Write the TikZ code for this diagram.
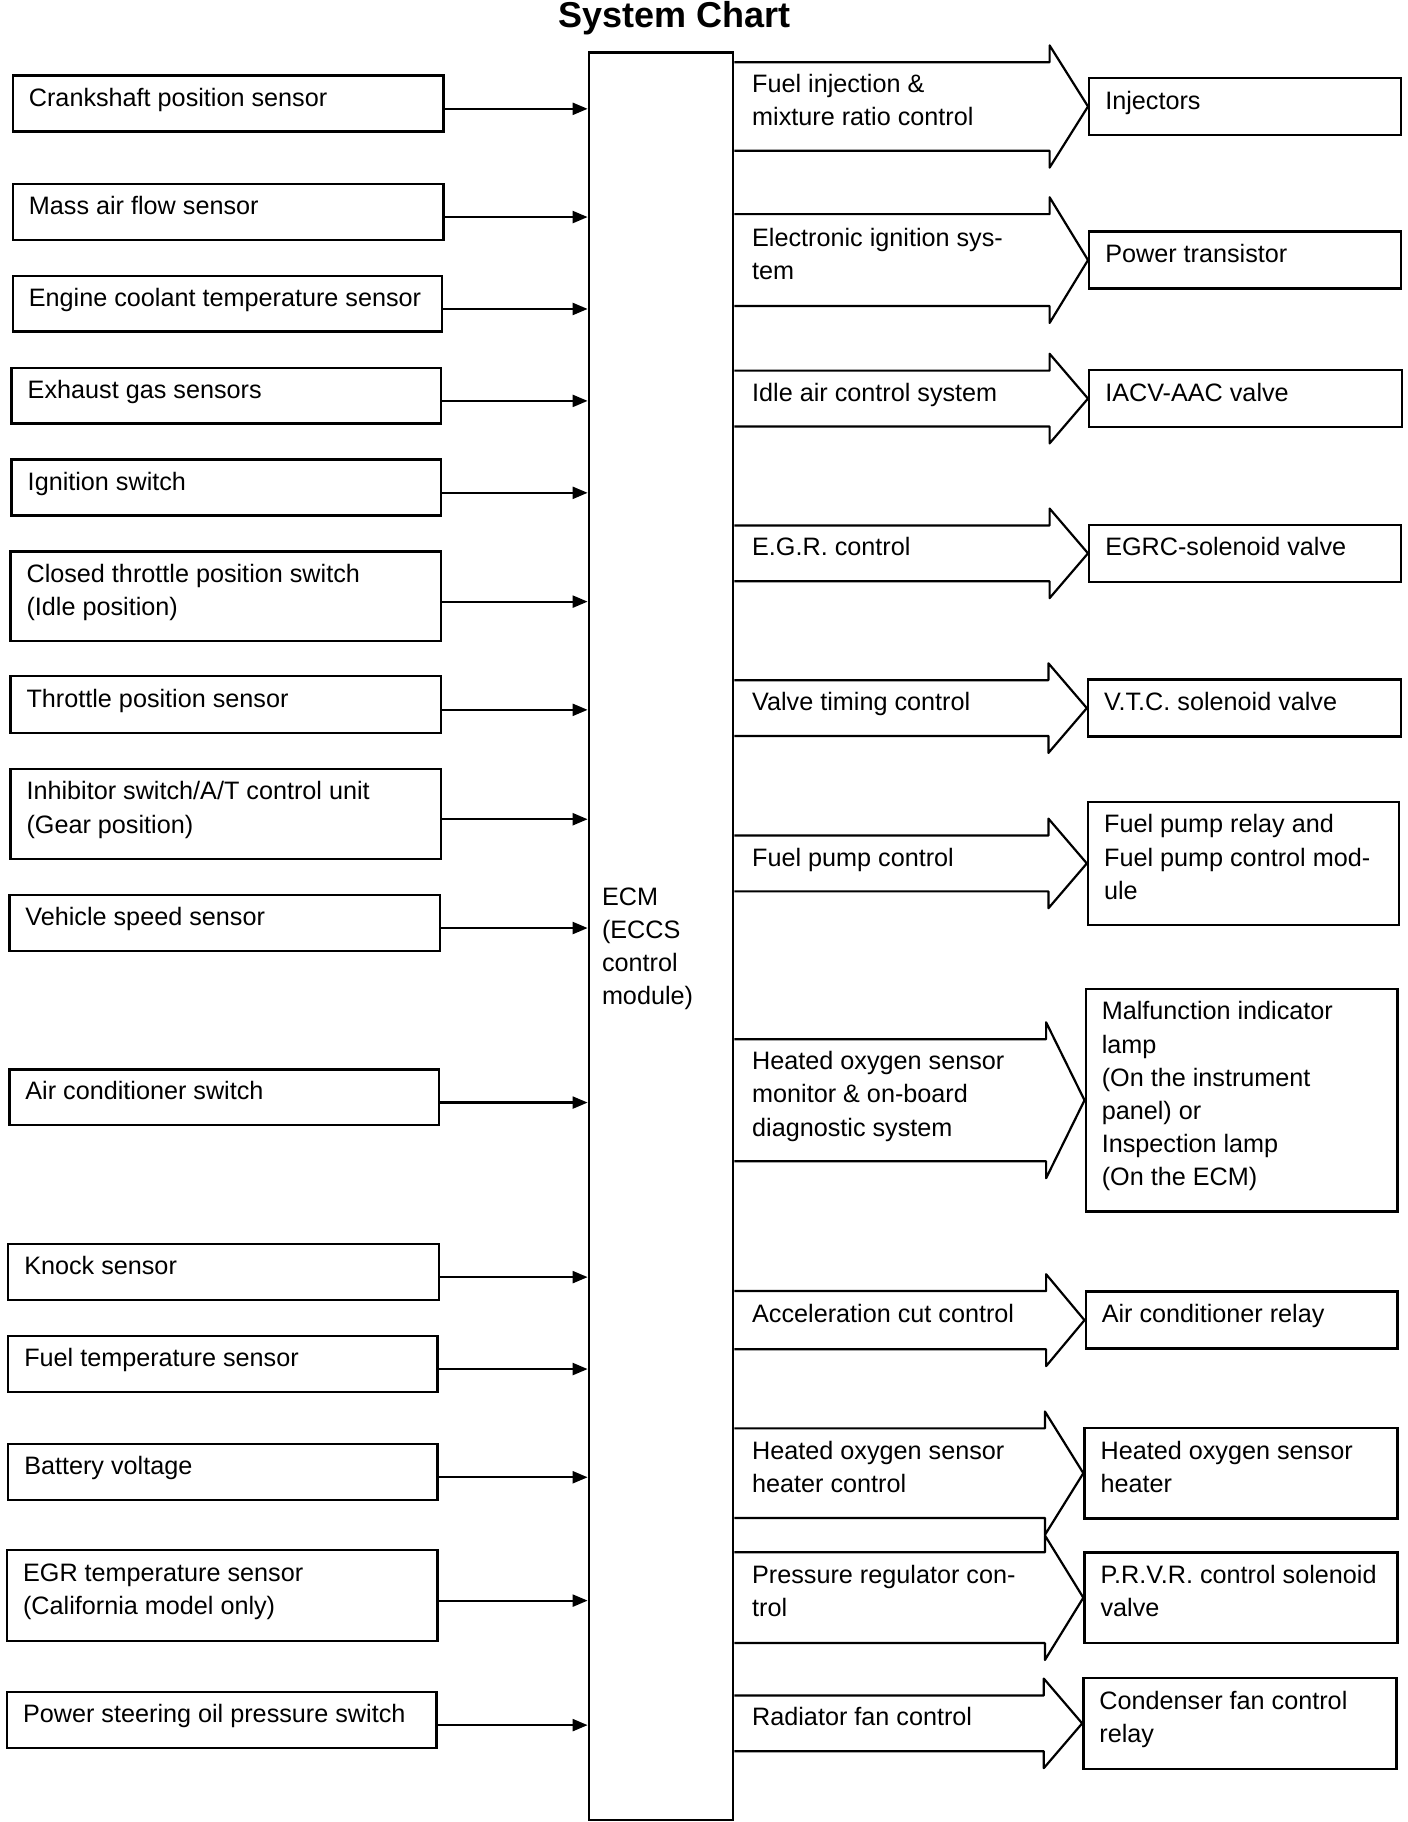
\documentclass[tikz,border=0pt]{standalone}
\usepackage{fontspec}
\setmainfont{Liberation Sans}
\usetikzlibrary{calc,arrows.meta}
\def\U{0.5818pt}
\tikzset{
  box/.style={draw, line width=1.2pt, rectangle, inner sep=0pt},
  txt/.style={anchor=west, inner sep=0pt, font=\fontsize{12.6}{16.6}\selectfont},
  conn/.style={line width=1.1pt, -{Triangle[length=7.5pt,width=6pt]}},
  barrow/.style={line width=1.1pt, line join=round},
}
% name, x1, y1, x2, y2, text
\newcommand\mkbox[6]{%
  \node[box, anchor=north west, minimum width={(#4-#2)*\U}, minimum height={(#5-#3)*\U}] (#1) at (#2,#3) {};
  \node[txt] (#1t) at ([xshift=14.5*\U, yshift=3.5*\U]#1.west) {\begin{tabular}{@{}l@{}}#6\end{tabular}};
}
% target node, half body height, text
\newcommand\bigarr[3]{%
  \pgfmathsetmacro\HH{#2+14.5}%
  \coordinate (#1s) at (ecm.east |- #1.west);
  \draw[barrow] ($(#1s)+(0,-#2)$) -- ($(#1.west)+(-33,-#2)$) -- ($(#1.west)+(-33,-\HH)$) -- (#1.west)
     -- ($(#1.west)+(-33,\HH)$) -- ($(#1.west)+(-33,#2)$) -- ($(#1s)+(0,#2)$);
  \node[txt] (#1a) at ([xshift=15*\U, yshift=3.5*\U]#1s) {\begin{tabular}{@{}l@{}}#3\end{tabular}};
}
\begin{document}
\begin{tikzpicture}[x=\U, y=-\U]
\useasboundingbox (0,0) rectangle (1210,1565.8);
\fill[white] (0,0) rectangle (1210,1565.8);

\node[anchor=base, inner sep=0pt, font=\fontsize{18}{22}\selectfont\bfseries] (title) at (580,24) {System Chart};

% ECM
\node[box, anchor=north west, minimum width={124*\U}, minimum height={1519*\U}] (ecm) at (505,44) {};
\node[txt] (ecmt) at ([xshift=12*\U, yshift=-10.5*\U]ecm.west) {\begin{tabular}{@{}l@{}}ECM\\(ECCS\\control\\module)\end{tabular}};

% left inputs
\mkbox{L1}{10}{64}{380}{112}{Crankshaft position sensor}
\mkbox{L2}{10}{157}{380}{205}{Mass air flow sensor}
\mkbox{L3}{10}{236}{379}{284}{Engine coolant temperature sensor}
\mkbox{L4}{9}{315}{378}{363}{Exhaust gas sensors}
\mkbox{L5}{9}{394}{378}{442}{Ignition switch}
\mkbox{L6}{8}{473}{378}{550}{Closed throttle position switch\\(Idle position)}
\mkbox{L7}{8}{580}{378}{629}{Throttle position sensor}
\mkbox{L8}{8}{660}{378}{737}{Inhibitor switch/A/T control unit\\(Gear position)}
\mkbox{L9}{7}{768}{377}{816}{Vehicle speed sensor}
\mkbox{L10}{7}{918}{376}{966}{Air conditioner switch}
\mkbox{L11}{6}{1068}{376}{1116}{Knock sensor}
\mkbox{L12}{6}{1147}{375}{1195}{Fuel temperature sensor}
\mkbox{L13}{6}{1240}{375}{1288}{Battery voltage}
\mkbox{L14}{5}{1331}{375}{1409}{EGR temperature sensor\\(California model only)}
\mkbox{L15}{5}{1453}{374}{1501}{Power steering oil pressure switch}

\foreach \i in {1,...,15}{
  \draw[conn] ([yshift=-4.5*\U]L\i.east) coordinate (s\i) -- (s\i -| ecm.west);
}

% right outputs
\mkbox{R1}{935}{66}{1203}{115}{Injectors}
\mkbox{R2}{935}{198}{1203}{247}{Power transistor}
\mkbox{R3}{935}{317}{1204}{366}{IACV-AAC valve}
\mkbox{R4}{935}{450}{1203}{499}{EGRC-solenoid valve}
\mkbox{R5}{934}{583}{1203}{632}{V.T.C. solenoid valve}
\mkbox{R6}{934}{688}{1201}{794}{Fuel pump relay and\\Fuel pump control mod-\\ule}
\mkbox{R7}{932}{849}{1200}{1040}{Malfunction indicator\\lamp\\(On the instrument\\panel) or\\Inspection lamp\\(On the ECM)}
\mkbox{R8}{932}{1109}{1200}{1158}{Air conditioner relay}
\mkbox{R9}{931}{1226}{1200}{1304}{Heated oxygen sensor\\heater}
\mkbox{R10}{931}{1333}{1200}{1411}{P.R.V.R. control solenoid\\valve}
\mkbox{R11}{930}{1441}{1199}{1519}{Condenser fan control\\relay}

\bigarr{R1}{38}{Fuel injection \&\\mixture ratio control}
\bigarr{R2}{39.5}{Electronic ignition sys-\\tem}
\bigarr{R3}{24}{Idle air control system}
\bigarr{R4}{24}{E.G.R. control}
\bigarr{R5}{24}{Valve timing control}
\bigarr{R6}{24}{Fuel pump control}
\bigarr{R7}{52.5}{Heated oxygen sensor\\monitor \& on-board\\diagnostic system}
\bigarr{R8}{25}{Acceleration cut control}
\bigarr{R9}{38.5}{Heated oxygen sensor\\heater control}
\bigarr{R10}{39}{Pressure regulator con-\\trol}
\bigarr{R11}{24}{Radiator fan control}
\end{tikzpicture}
\end{document}
